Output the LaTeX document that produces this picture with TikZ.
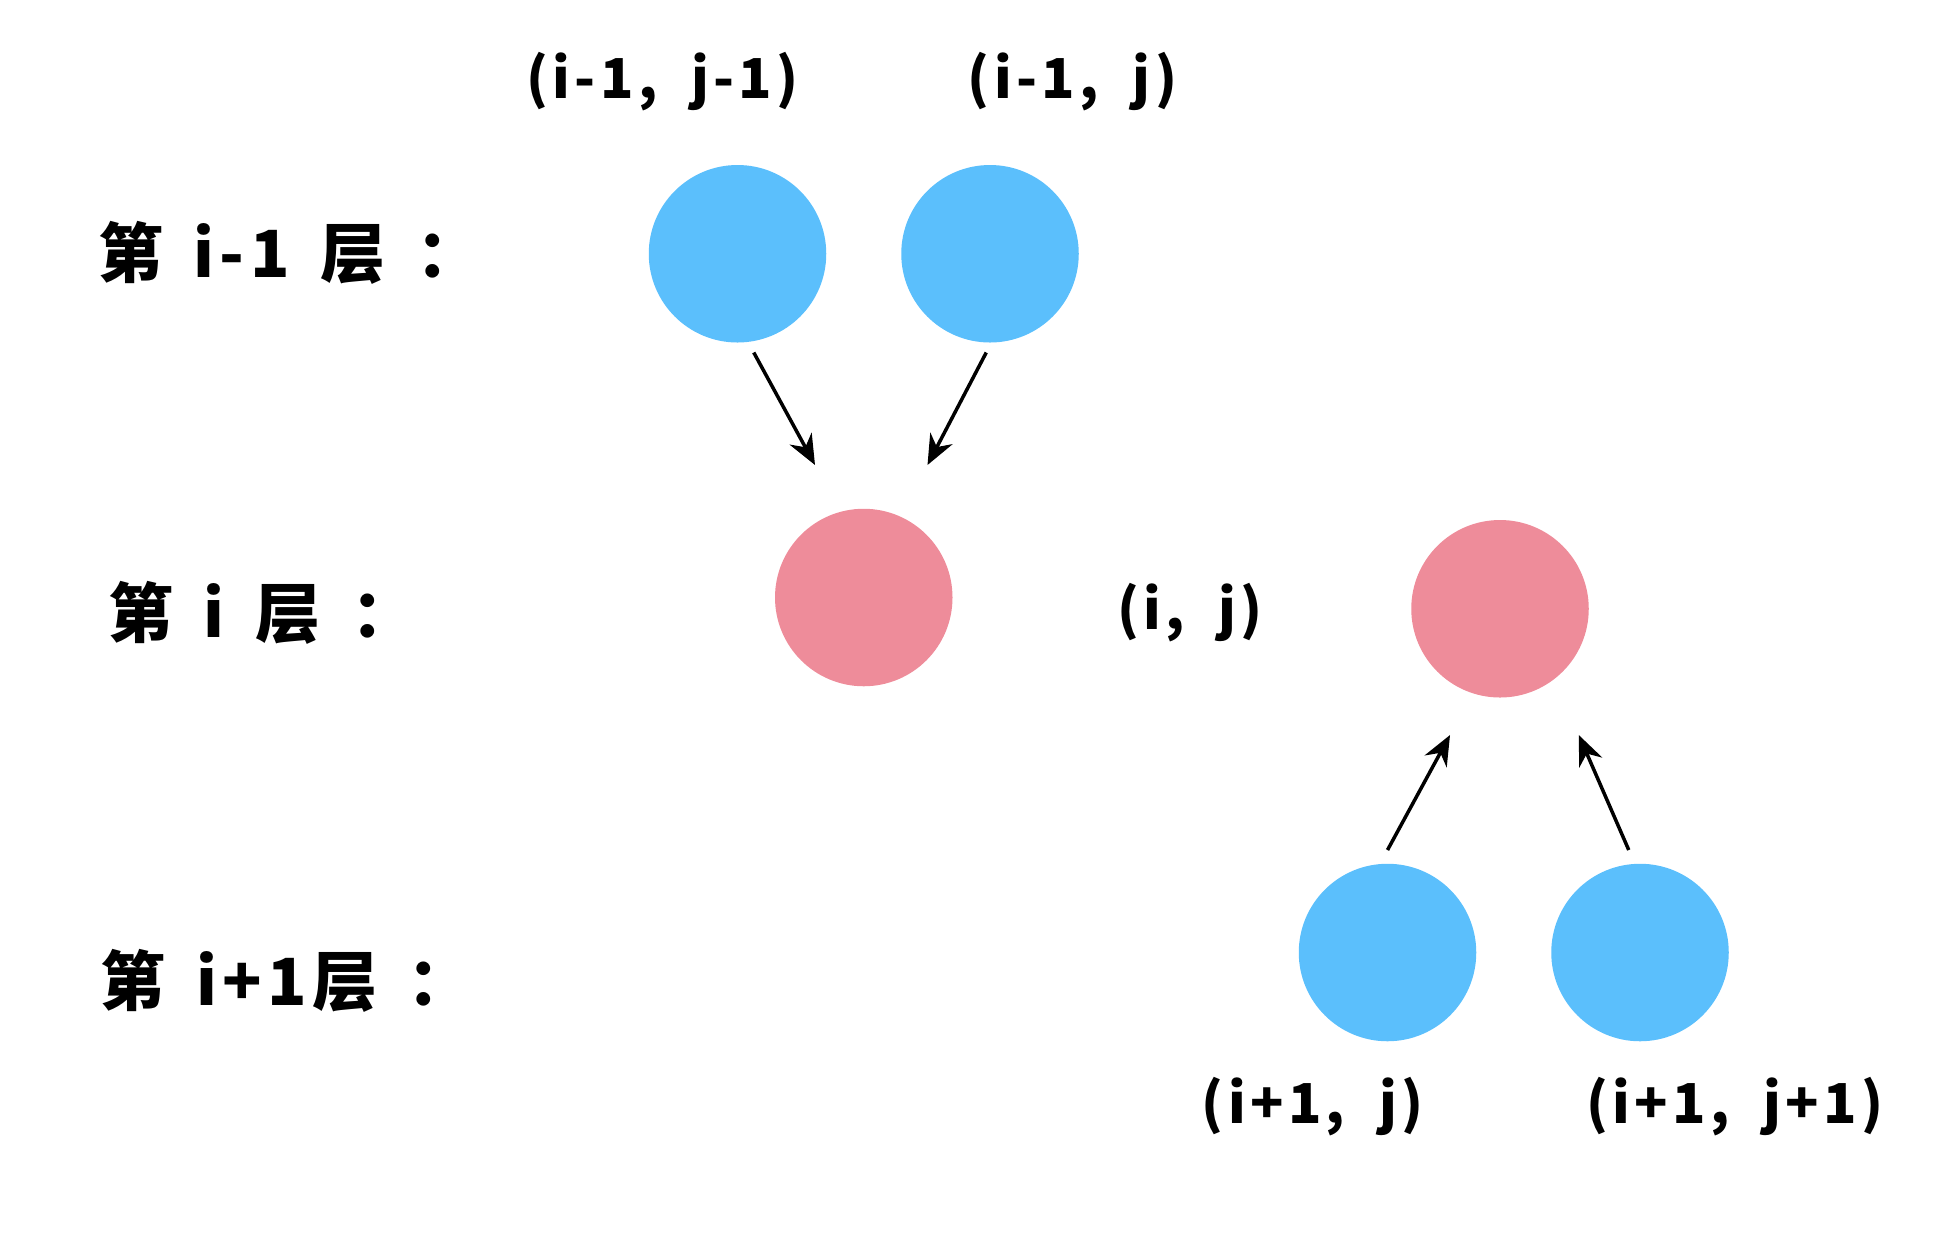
\documentclass[tikz,border=0pt]{standalone}
\usepackage{fontspec}
\setmainfont{Noto Sans CJK SC}[LetterSpace=8]
\usetikzlibrary{arrows.meta}
\definecolor{cblue}{HTML}{5BBFFC}
\definecolor{cpink}{HTML}{EE8C9A}
\begin{document}
\begin{tikzpicture}[x=0.5pt,y=-0.5pt,
  dot/.style={circle,minimum size=71pt,inner sep=0pt},
  lab/.style={font=\fontsize{22}{24}\selectfont\bfseries,inner sep=0pt},
  lay/.style={font=\fontsize{26}{28}\selectfont\bfseries,inner sep=0pt,anchor=west},
  arr/.style={-{Stealth[length=12pt,width=10pt]},line width=1.4pt}]
\useasboundingbox (0,0) rectangle (1568,987);
\node[dot,fill=cblue] (a) at (590,203) {};
\node[dot,fill=cblue] (b) at (792,203) {};
\node[dot,fill=cpink] (c) at (691,478) {};
\node[dot,fill=cpink] (d) at (1200,487) {};
\node[dot,fill=cblue] (e) at (1110,762) {};
\node[dot,fill=cblue] (f) at (1312,762) {};
\node[lab] (ta) at (530,65) {(i-1,\ \ j-1)};
\node[lab] (tb) at (858,65) {(i-1,\ \ j)};
\node[lab] (td) at (952,490) {(i,\ \ j)};
\node[lab] (te) at (1050,885) {(i+1,\ \ j)};
\node[lab] (tf) at (1388,885) {(i+1,\ \ j+1)};
\node[lay] (l1) at (78,202) {第\ \,i-1\ \,层\ \,：};
\node[lay] (l2) at (86,490) {第\ \,i\ \,层\ \,：};
\node[lay] (l3) at (80,785) {第\ \,i+1层\ \,：};
\coordinate (a1) at (603,282); \coordinate (a2) at (652,372);
\coordinate (b1) at (789,282); \coordinate (b2) at (742,372);
\coordinate (e1) at (1110,680); \coordinate (e2) at (1160,588);
\coordinate (f1) at (1303,680); \coordinate (f2) at (1263,588);
\draw[arr] (a1) -- (a2);
\draw[arr] (b1) -- (b2);
\draw[arr] (e1) -- (e2);
\draw[arr] (f1) -- (f2);
\end{tikzpicture}
\end{document}
